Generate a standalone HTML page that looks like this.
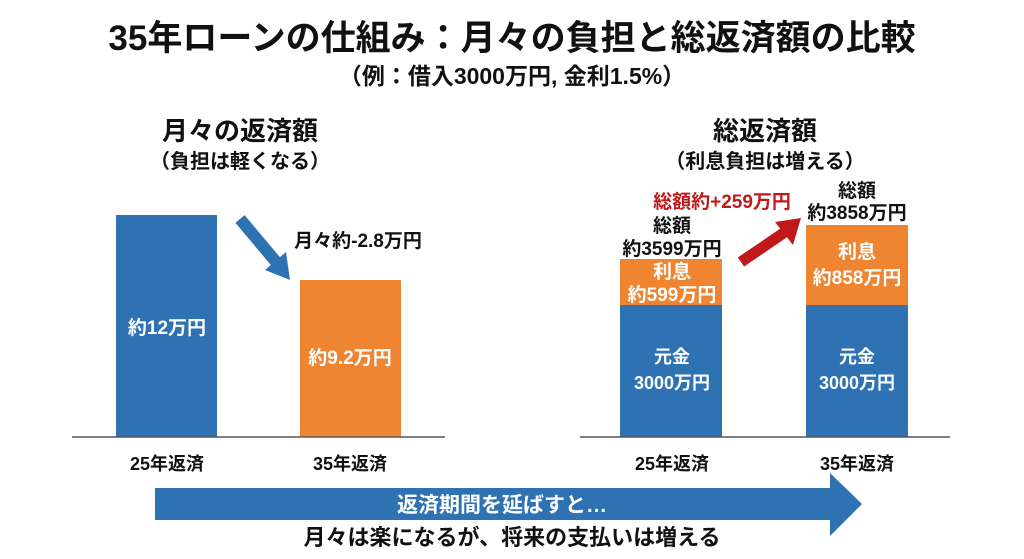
<!DOCTYPE html>
<html><head><meta charset="utf-8"><style>
html,body{margin:0;padding:0;background:#fff;}
svg{display:block;}
text{font-family:"Liberation Sans","Noto Sans CJK JP",sans-serif;font-weight:bold;}
</style></head><body>
<svg width="1024" height="559" viewBox="0 0 1024 559">
<rect width="1024" height="559" fill="#fff"/>
<text x="512" y="50" font-size="35" text-anchor="middle" fill="#111">35年ローンの仕組み：月々の負担と総返済額の比較</text>
<text x="512" y="84" font-size="23" text-anchor="middle" fill="#111">（例：借入3000万円, 金利1.5%）</text>

<text x="240" y="140" font-size="26" text-anchor="middle" fill="#111">月々の返済額</text>
<text x="240" y="168" font-size="20" text-anchor="middle" fill="#111">（負担は軽くなる）</text>
<text x="765" y="140" font-size="26" text-anchor="middle" fill="#111">総返済額</text>
<text x="765" y="168" font-size="20" text-anchor="middle" fill="#111">（利息負担は増える）</text>

<!-- left chart -->
<rect x="116" y="215" width="101" height="222" fill="#2e72b4"/>
<rect x="300" y="280" width="101" height="157" fill="#ef8531"/>
<line x1="72" y1="437" x2="445" y2="437" stroke="#555" stroke-width="1.5"/>
<text x="167" y="334" font-size="19" text-anchor="middle" fill="#fff">約12万円</text>
<text x="350" y="364" font-size="19" text-anchor="middle" fill="#fff">約9.2万円</text>
<text x="167" y="470" font-size="18" text-anchor="middle" fill="#111">25年返済</text>
<text x="350" y="470" font-size="18" text-anchor="middle" fill="#111">35年返済</text>
<text x="358" y="247" font-size="19" text-anchor="middle" fill="#111">月々約-2.8万円</text>
<line x1="240" y1="219" x2="277" y2="263" stroke="#2e72b4" stroke-width="12"/>
<polygon points="265,270 290,280 286,252" fill="#2e72b4"/>

<!-- right chart -->
<rect x="620" y="259" width="102" height="46" fill="#ef8531"/>
<rect x="620" y="305" width="102" height="132" fill="#2e72b4"/>
<rect x="806" y="225" width="102" height="80" fill="#ef8531"/>
<rect x="806" y="305" width="102" height="132" fill="#2e72b4"/>
<line x1="580" y1="437" x2="950" y2="437" stroke="#555" stroke-width="1.5"/>
<text x="672" y="278" font-size="19" text-anchor="middle" fill="#fff">利息</text>
<text x="672" y="301" font-size="19" text-anchor="middle" fill="#fff">約599万円</text>
<text x="857" y="258" font-size="19" text-anchor="middle" fill="#fff">利息</text>
<text x="857" y="284" font-size="19" text-anchor="middle" fill="#fff">約858万円</text>
<text x="672" y="363" font-size="18" text-anchor="middle" fill="#fff">元金</text>
<text x="672" y="389" font-size="18" text-anchor="middle" fill="#fff">3000万円</text>
<text x="857" y="363" font-size="18" text-anchor="middle" fill="#fff">元金</text>
<text x="857" y="389" font-size="18" text-anchor="middle" fill="#fff">3000万円</text>
<text x="672" y="232" font-size="19" text-anchor="middle" fill="#111">総額</text>
<text x="672" y="255" font-size="19" text-anchor="middle" fill="#111">約3599万円</text>
<text x="857" y="197" font-size="19" text-anchor="middle" fill="#111">総額</text>
<text x="857" y="219" font-size="19" text-anchor="middle" fill="#111">約3858万円</text>
<text x="722" y="208" font-size="19" text-anchor="middle" fill="#c0191c">総額約+259万円</text>
<line x1="741" y1="262" x2="785" y2="232" stroke="#c0191c" stroke-width="11"/>
<polygon points="775,222 801,218 793,245" fill="#c0191c"/>
<text x="672" y="470" font-size="18" text-anchor="middle" fill="#111">25年返済</text>
<text x="857" y="470" font-size="18" text-anchor="middle" fill="#111">35年返済</text>

<!-- bottom arrow -->
<polygon points="155,488 830,488 830,473 862,504 830,536 830,520 155,520" fill="#2e72b4"/>
<text x="502" y="512" font-size="21" text-anchor="middle" fill="#fff">返済期間を延ばすと…</text>
<text x="512" y="545" font-size="22" text-anchor="middle" fill="#111">月々は楽になるが、将来の支払いは増える</text>
</svg>
</body></html>
